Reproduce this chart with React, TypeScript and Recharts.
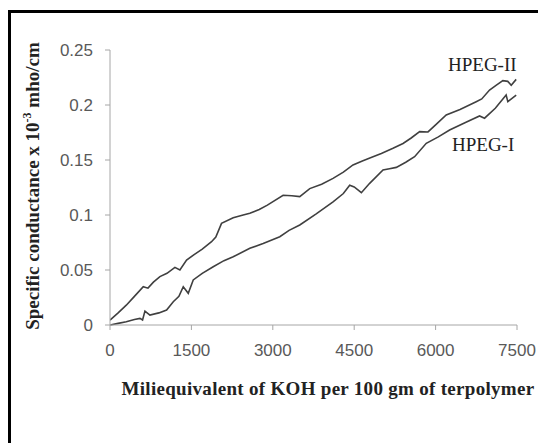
import React from "react";
import { LineChart, Line, XAxis, YAxis } from "recharts";

const xTicks = [0, 1500, 3000, 4500, 6000, 7500];
const yTicks = [0, 0.05, 0.1, 0.15, 0.2, 0.25];

const hpeg2X = [0, 150, 300, 450, 613, 700, 800, 920, 1050, 1196, 1288, 1411, 1550, 1700, 1871, 1950, 2055, 2270, 2454, 2577, 2750, 2900, 3190, 3350, 3497, 3681, 3900, 4110, 4300, 4478, 4650, 4800, 5000, 5215, 5400, 5550, 5706, 5860, 6000, 6196, 6450, 6748, 6850, 6994, 7120, 7239, 7330, 7393, 7485];
const hpeg2Y = [0.0045, 0.011, 0.018, 0.026, 0.0348, 0.0335, 0.039, 0.044, 0.047, 0.0524, 0.05, 0.059, 0.064, 0.069, 0.0757, 0.08, 0.0924, 0.0975, 0.1, 0.1015, 0.105, 0.109, 0.118, 0.1175, 0.1167, 0.124, 0.128, 0.1333, 0.139, 0.1455, 0.149, 0.152, 0.156, 0.1606, 0.165, 0.17, 0.1758, 0.1755, 0.182, 0.191, 0.196, 0.203, 0.2055, 0.2136, 0.218, 0.2221, 0.2215, 0.218, 0.2233];

const hpeg1X = [0, 150, 300, 450, 552, 600, 644, 736, 900, 1043, 1166, 1270, 1350, 1442, 1534, 1700, 1902, 2100, 2270, 2577, 2822, 3129, 3300, 3497, 3800, 4110, 4300, 4417, 4500, 4632, 4785, 5031, 5150, 5276, 5450, 5613, 5828, 6050, 6258, 6550, 6810, 6902, 7100, 7300, 7331, 7485];
const hpeg1Y = [0, 0.0015, 0.003, 0.005, 0.006, 0.0045, 0.0127, 0.009, 0.011, 0.0136, 0.0212, 0.026, 0.0348, 0.0288, 0.041, 0.047, 0.053, 0.0585, 0.062, 0.0697, 0.0742, 0.0803, 0.086, 0.0909, 0.101, 0.112, 0.1195, 0.127, 0.1255, 0.1203, 0.1288, 0.1409, 0.142, 0.1433, 0.148, 0.153, 0.1652, 0.171, 0.1773, 0.184, 0.19, 0.188, 0.197, 0.2091, 0.203, 0.209];

const hpeg2 = hpeg2X.map((x, i) => ({ x, y: hpeg2Y[i] }));
const hpeg1 = hpeg1X.map((x, i) => ({ x, y: hpeg1Y[i] }));

const tickStyle = { fontFamily: "'Liberation Sans', Arial, sans-serif", fontSize: 17, fill: "#595959" };
const serif = "'Liberation Serif', 'Times New Roman', serif";

export default function App() {
  return (
    <div style={{ position: "relative", width: 538, height: 435, background: "#fff" }}>
      <div style={{ position: "absolute", left: 0, top: 2, width: 538, height: 3, background: "#000" }} />
      <div style={{ position: "absolute", left: 0, top: 2, width: 3, height: 433, background: "#000" }} />
      <LineChart
        width={538}
        height={435}
        margin={{ top: 42, right: 29, bottom: 88, left: 0 }}
      >
        <XAxis
          type="number"
          dataKey="x"
          domain={[0, 7500]}
          ticks={xTicks}
          tick={tickStyle}
          tickLine={{ stroke: "#a6a6a6" }}
          axisLine={{ stroke: "#a6a6a6" }}
          tickSize={5}
          tickMargin={14}
          height={30}
          allowDataOverflow
        />
        <YAxis
          type="number"
          dataKey="y"
          domain={[0, 0.25]}
          ticks={yTicks}
          tick={tickStyle}
          tickLine={{ stroke: "#a6a6a6" }}
          axisLine={{ stroke: "#a6a6a6" }}
          tickSize={5}
          tickMargin={12}
          width={102}
        />
        <Line data={hpeg2} dataKey="y" type="linear" stroke="#404040" strokeWidth={1.6} dot={false} isAnimationActive={false} />
        <Line data={hpeg1} dataKey="y" type="linear" stroke="#404040" strokeWidth={1.6} dot={false} isAnimationActive={false} />
      </LineChart>
      <div style={{ position: "absolute", left: 440, top: 46, fontFamily: serif, fontSize: 19, color: "#222", whiteSpace: "nowrap" }}>HPEG-II</div>
      <div style={{ position: "absolute", left: 444, top: 126, fontFamily: serif, fontSize: 19, color: "#222", whiteSpace: "nowrap" }}>HPEG-I</div>
      <div style={{ position: "absolute", left: 100, top: 370, width: 440, textAlign: "center", fontFamily: serif, fontWeight: "bold", fontSize: 19, letterSpacing: 0.3, color: "#222", whiteSpace: "nowrap" }}>
        Miliequivalent of KOH per 100 gm of terpolymer
      </div>
      <div style={{ position: "absolute", left: 24, top: 178, width: 0, height: 0 }}>
        <div style={{ position: "absolute", left: 0, top: 0, transform: "translate(-50%, -50%) rotate(-90deg)", fontFamily: serif, fontWeight: "bold", fontSize: 19, color: "#222", whiteSpace: "nowrap" }}>
          Specific conductance x 10<sup style={{ fontSize: 12 }}>-3</sup> mho/cm
        </div>
      </div>
    </div>
  );
}
